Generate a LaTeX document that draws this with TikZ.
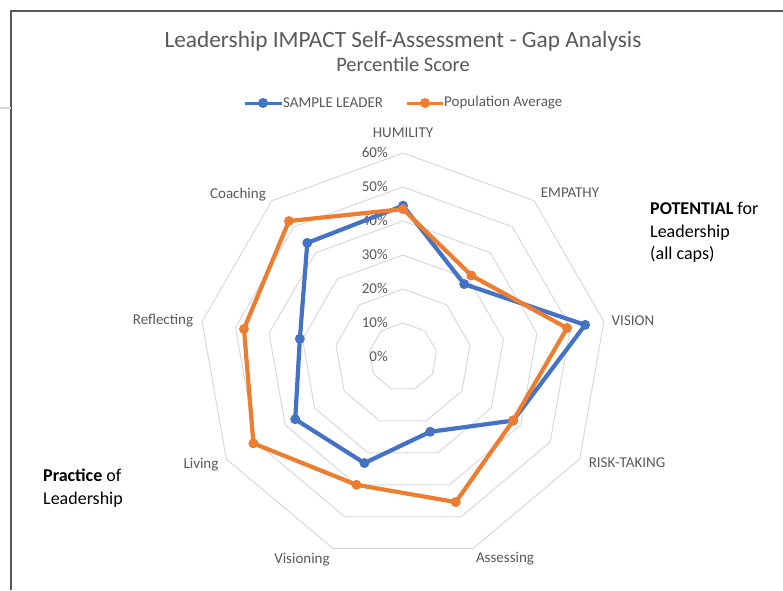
\documentclass[tikz,border=0pt]{standalone}
\usepackage{fontspec}
\setmainfont{Carlito}
\usetikzlibrary{positioning}
\definecolor{leader}{HTML}{4472C4}
\definecolor{popavg}{HTML}{ED7D31}
\definecolor{labelgray}{HTML}{595959}
\definecolor{gridgray}{HTML}{D9D9D9}
\newcommand{\fsz}[1]{\fontsize{#1}{#1}\selectfont}
\tikzset{every node/.style={inner sep=0pt, text=labelgray, font=\fsz{15}},
  ring/.style={gridgray, line width=1pt},
  series/.style={line width=4.2pt, line join=round},
  dot/.style={radius=5},
  frame/.style={labelgray, line width=1.5pt},
  axislabel/.style={anchor=base},
  note/.style={anchor=base west, text=black, font=\fsz{18}}}

\begin{document}
\begin{tikzpicture}[x=1pt,y=1pt]
   \useasboundingbox (-403,-233) rectangle (380,357);
   \draw[frame] (-392,-233) -- (-392,346) -- (380,346);
   \draw[gridgray, line width=1.5pt] (-403,249) -- (-392,249);

   \node[anchor=base, font=\fsz{23.3}] (title) at (0,309) {Leadership IMPACT Self-Assessment - Gap Analysis};
   \node[anchor=base, font=\fsz{20.5}] (subtitle) at (0,286) {Percentile Score};

   \foreach \r in {1,...,6}
     \draw[ring] (90:\r*34) \foreach \k in {1,...,8} { -- (90-40*\k:\r*34) } -- cycle;
   \foreach \p [evaluate=\p as \pct using int(\p*10)] in {0,...,6}
     \node[anchor=base east] (tick\p) at (-15,\p*34-4.6) {\pct\%};

   \node[axislabel] (humility) at (0,220)     {HUMILITY};
   \node[axislabel] (empathy) at (167,160)    {EMPATHY};
   \node[axislabel] (vision) at (230,32)      {VISION};
   \node[axislabel] (risk) at (224,-110)      {RISK-TAKING};
   \node[axislabel] (assessing) at (102,-205) {Assessing};
   \node[axislabel] (visioning) at (-101,-206) {Visioning};
   \node[axislabel] (living) at (-202,-111)   {Living};
   \node[axislabel] (reflecting) at (-240,33) {Reflecting};
   \node[axislabel] (coaching) at (-165,159)  {Coaching};

   \foreach \v [count=\i from 0] in {44.5,28,54.4,37.4,23.4,33.2,36.6,30.8,43.8}
     \coordinate (s\i) at (90-40*\i:3.4*\v);
   \foreach \v [count=\i from 0] in {43.5,31.3,49,37.4,45.4,40,50.8,47.5,52.2}
     \coordinate (p\i) at (90-40*\i:3.4*\v);

   \draw[series, leader] (s0) -- (s1) -- (s2) -- (s3) -- (s4) -- (s5) -- (s6) -- (s7) -- (s8) -- cycle;
   \foreach \i in {0,...,8} \fill[leader] (s\i) circle[dot];
   \draw[series, popavg] (p0) -- (p1) -- (p2) -- (p3) -- (p4) -- (p5) -- (p6) -- (p7) -- (p8) -- cycle;
   \foreach \i in {0,...,8} \fill[popavg] (p\i) circle[dot];

   \coordinate (lga) at (-158,254);
   \coordinate (lgb) at (-121,254);
   \draw[series, leader, line width=3pt] (lga) -- (lgb);
   \fill[leader] (-140,254) circle[dot];
   \node[anchor=west] (lgs) at (-120,254) {SAMPLE LEADER};
   \coordinate (lgc) at (4,254);
   \coordinate (lgd) at (40,254);
   \draw[series, popavg, line width=3pt] (lgc) -- (lgd);
   \fill[popavg] (22,254) circle[dot];
   \node[anchor=west] (lgp) at (41,254) {Population Average};

   \node[note] (pot1) at (247,143) {\textbf{POTENTIAL} for};
   \node[note] (pot2) at (247,120) {Leadership};
   \node[note] (pot3) at (247,98)  {(all caps)};
   \node[note] (prac1) at (-360,-124) {\textbf{Practice} of};
   \node[note] (prac2) at (-360,-147) {Leadership};
\end{tikzpicture}
\end{document}
